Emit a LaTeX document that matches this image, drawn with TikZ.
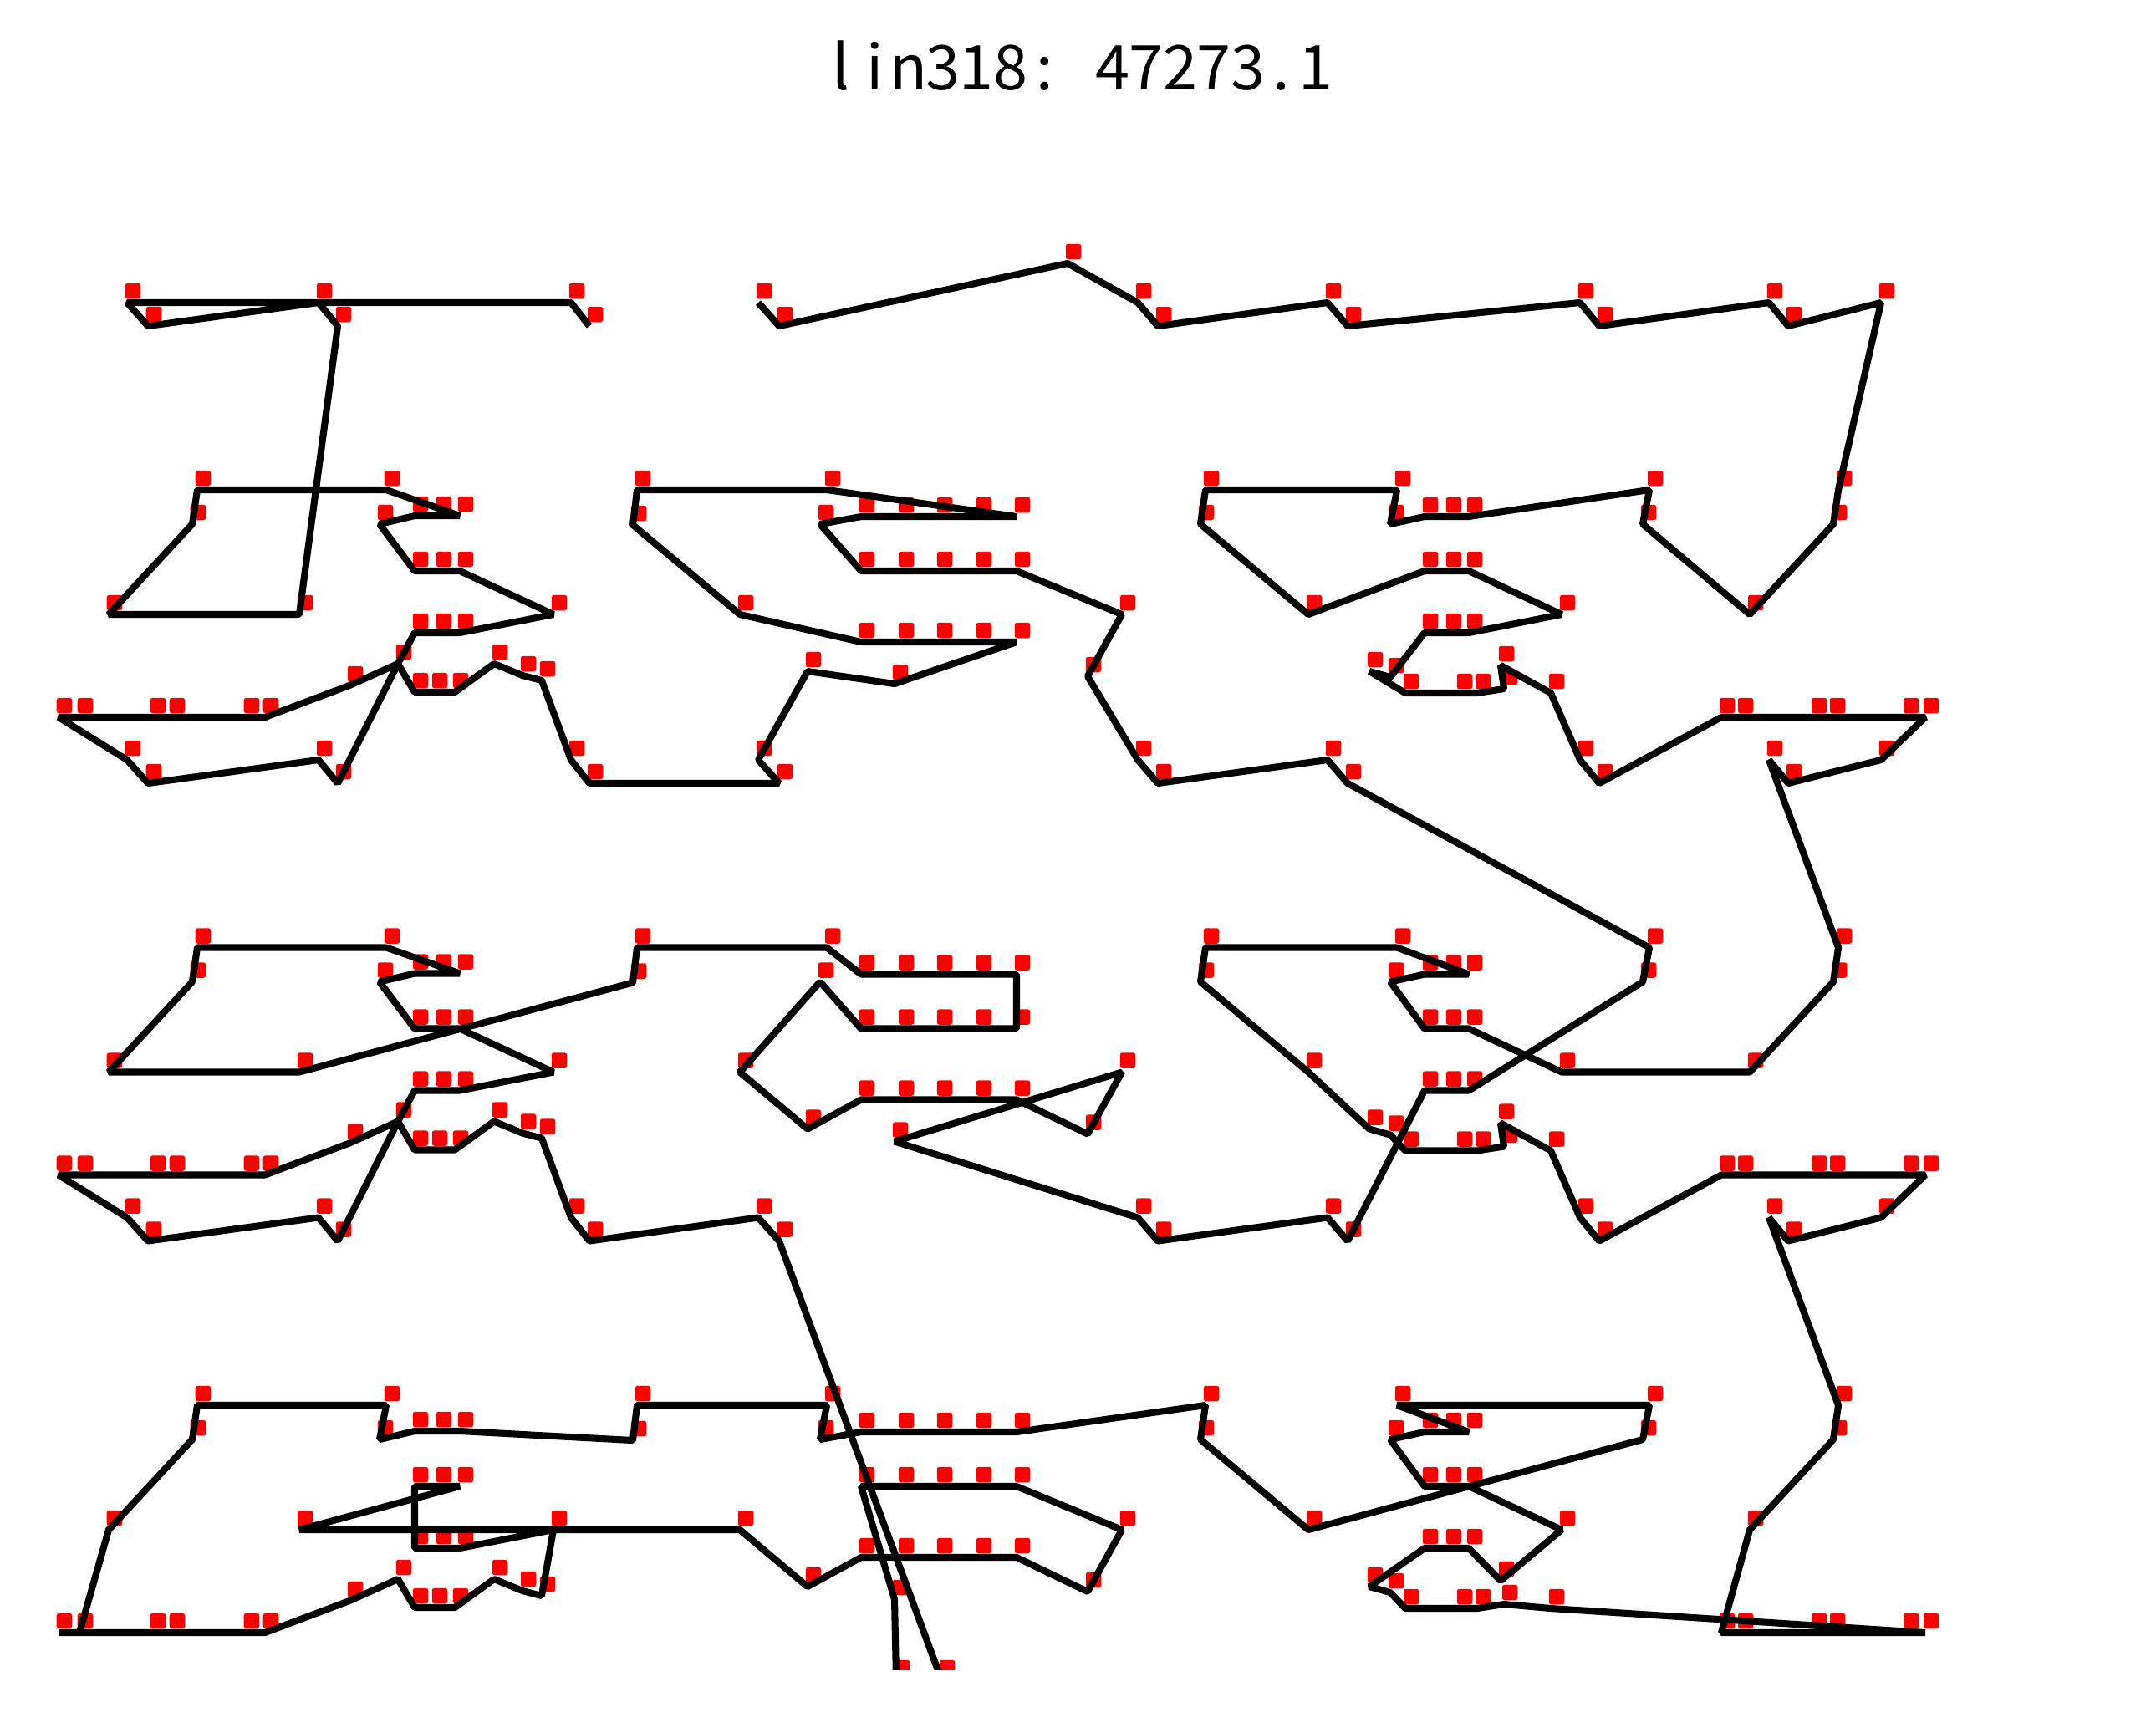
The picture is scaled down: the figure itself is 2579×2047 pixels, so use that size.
\documentclass[tikz,border=0pt]{standalone}
\usepackage{fontspec}
\newfontfamily\titlefont{Noto Sans CJK SC}
\newcommand\monochar[1]{\makebox[0.405cm][c]{#1}}
\begin{document}
\begin{tikzpicture}[x=0.01cm, y=-0.01cm,
  tour/.style={line width=2.3pt, black, line join=bevel},
  city/.style={fill=red, inner sep=0pt, minimum size=0.185cm, rounded corners=0.8pt}
]
\useasboundingbox (0,0) rectangle (2579,2047);

% Title
\node[font=\titlefont\fontsize{21}{21}\selectfont] (title) at (1290,79)
  {\monochar{l}\monochar{i}\monochar{n}\monochar{3}\monochar{1}\monochar{8}\monochar{:}\monochar{}\monochar{4}\monochar{7}\monochar{2}\monochar{7}\monochar{3}\monochar{.}\monochar{1}};

\begin{scope}
\clip (0,0) rectangle (2579,1997);

% Cities of one band, repeated three times
\foreach \band/\dy in {a/0, b/547.5, c/1095} {
  \foreach \n/\x/\y in {l1/236/586, l2/230/627, l3/130/735, l4/358/735, l5/462/586, l6/454/627,
      l7/496/617, l8/524/617, l9/550/617, l10/496/683, l11/524/683, l12/550/683, l13/662/735,
      l14/496/757, l15/524/757, l16/550/757, l17/476/794, l18/418/820, l19/496/828, l20/519/828,
      l21/544/828, l22/591/794, l23/625/808, l24/648/814, l25/70/858, l26/95/858, l27/182/858,
      l28/205/858, l29/294/858, l30/317/858,
      m1/966/803, m2/1070/818, m3/1030/768, m4/1077/768, m5/1123/768, m6/1170/768, m7/1216/768,
      m8/885/735, m9/757/628, m10/762/586, m11/989/586, m12/1030/618, m13/1077/618, m14/1123/618,
      m15/1170/618, m16/1216/618, m17/981/627, m18/1030/683, m19/1077/683, m20/1123/683,
      m21/1170/683, m22/1216/683, m23/1342/735, m24/1301/809,
      r1/1442/586, r2/1436/627, r3/1565/735, r4/1671/586, r5/1663/627, r6/1704/618, r7/1732/618,
      r8/1757/618, r9/1704/683, r10/1732/683, r11/1757/683, r12/1868/735, r13/1704/757,
      r14/1732/757, r15/1757/757, r16/1638/803, r17/1663/810, r18/1681/829, r19/1745/829,
      r20/1767/829, r21/1799/824, r22/1795/796, r23/1855/829,
      q1/1973/586, q2/1965/627, q3/2093/735, q4/2199/586, q5/2193/627, q6/2059/858, q7/2081/858,
      q8/2169/858, q9/2191/858, q10/2279/858, q11/2303/858} {
    \coordinate (\band-\n) at (\x,{\y+\dy});
    \node[city] (\band-\n-sq) at ({\x+7},{\y+\dy-14}) {};
  }
}

% Paired cities between the bands
\foreach \band/\dy in {t/-547, a/0, b/547.5} {
  \foreach \n/\x/\y in {p1/152/909, p2/177/937, p3/381/909, p4/404/937, p5/683/909, p6/705/937,
      p7/907/909, p8/932/937, p9/1361/909, p10/1385/937, p11/1588/909, p12/1612/937,
      p13/1890/909, p14/1913/937, p15/2116/909, p16/2139/937, p17/2250/909} {
    \coordinate (\band-\n) at (\x,{\y+\dy});
    \node[city] (\band-\n-sq) at ({\x+7},{\y+\dy-14}) {};
  }
}

% Single cities
\coordinate (tp) at (1277,315);
\node[city] (tp-sq) at (1284,301) {};
\coordinate (cp1) at (1072,2009);
\node[city] (cp1-sq) at (1079,1995) {};
\coordinate (cp2) at (1126,2009);
\node[city] (cp2-sq) at (1133,1995) {};

% Tour, first part
\draw[tour] (t-p6) \foreach \p in {t-p5,t-p1,t-p2,t-p3,t-p4,
    a-l4,a-l3,a-l2,a-l1,a-l5,a-l9,a-l8,a-l7,a-l6,a-l10,a-l11,a-l12,a-l13,a-l16,a-l15,a-l14,a-l17,
    a-p4,a-p3,a-p2,a-p1,a-l25,a-l26,a-l27,a-l28,a-l29,a-l30,a-l18,a-l17,a-l19,a-l20,a-l21,
    a-l22,a-l23,a-l24,a-p5,a-p6,a-p8,a-p7,a-m1,a-m2,a-m7,a-m6,a-m5,a-m4,a-m3,a-m8,a-m9,a-m10,
    a-m11,a-m16,a-m15,a-m14,a-m13,a-m12,a-m17,a-m18,a-m19,a-m20,a-m21,a-m22,a-m23,a-m24,
    a-p9,a-p10,a-p11,a-p12,
    b-q1,b-q2,b-r15,b-r14,b-r13,b-p12,b-p11,b-p10,b-p9,b-m2,b-m23,b-m24,b-m7,b-m6,b-m5,b-m4,
    b-m3,b-m1,b-m8,b-m17,b-m18,b-m19,b-m20,b-m21,b-m22,b-m16,b-m15,b-m14,b-m13,b-m12,b-m11,
    b-m10,b-m9,b-l4,b-l3,b-l2,b-l1,b-l5,b-l9,b-l8,b-l7,b-l6,b-l10,b-l11,b-l12,b-l13,b-l16,
    b-l15,b-l14,b-l17,b-p4,b-p3,b-p2,b-p1,b-l25,b-l26,b-l27,b-l28,b-l29,b-l30,b-l18,b-l17,
    b-l19,b-l20,b-l21,b-l22,b-l23,b-l24,b-p5,b-p6,b-p7,b-p8,cp2} {-- (\p)};

% Tour, second part
\draw[tour] (t-p7) \foreach \p in {t-p8,tp,t-p9,t-p10,t-p11,t-p12,t-p13,t-p14,t-p15,t-p16,t-p17,
    a-q4,a-q5,a-q3,a-q2,a-q1,a-r8,a-r7,a-r6,a-r5,a-r4,a-r1,a-r2,a-r3,a-r9,a-r10,a-r11,a-r12,
    a-r15,a-r14,a-r13,a-r17,a-r16,a-r18,a-r19,a-r20,a-r21,a-r22,a-r23,a-p13,a-p14,
    a-q6,a-q7,a-q8,a-q9,a-q10,a-q11,a-p17,a-p16,a-p15,
    b-q4,b-q5,b-q3,b-r12,b-r11,b-r10,b-r9,b-r5,b-r6,b-r7,b-r8,b-r4,b-r1,b-r2,b-r3,b-r16,b-r17,
    b-r18,b-r19,b-r20,b-r21,b-r22,b-r23,b-p13,b-p14,b-q6,b-q7,b-q8,b-q9,b-q10,b-q11,b-p17,
    b-p16,b-p15,
    c-q4,c-q5,c-q3,c-q6,c-q7,c-q8,c-q9,c-q10,c-q11,c-r23,c-r21,c-r20,c-r19,c-r18,c-r17,c-r16,
    c-r13,c-r14,c-r15,c-r22,c-r12,c-r11,c-r10,c-r9,c-r5,c-r6,c-r7,c-r8,c-r4,c-q1,c-q2,c-r3,
    c-r2,c-r1,c-m16,c-m15,c-m14,c-m13,c-m12,c-m17,c-m11,c-m10,c-m9,c-l9,c-l8,c-l7,c-l6,c-l5,
    c-l1,c-l2,c-l3,c-l26,c-l25,c-l27,c-l28,c-l29,c-l30,c-l18,c-l17,c-l19,c-l20,c-l21,c-l22,
    c-l23,c-l24,c-l13,c-l16,c-l15,c-l14,c-l10,c-l11,c-l12,c-l4,c-m8,c-m1,c-m3,c-m4,c-m5,c-m6,
    c-m7,c-m24,c-m23,c-m22,c-m21,c-m20,c-m19,c-m18,c-m2,cp1} {-- (\p)};
\end{scope}
\end{tikzpicture}
\end{document}
